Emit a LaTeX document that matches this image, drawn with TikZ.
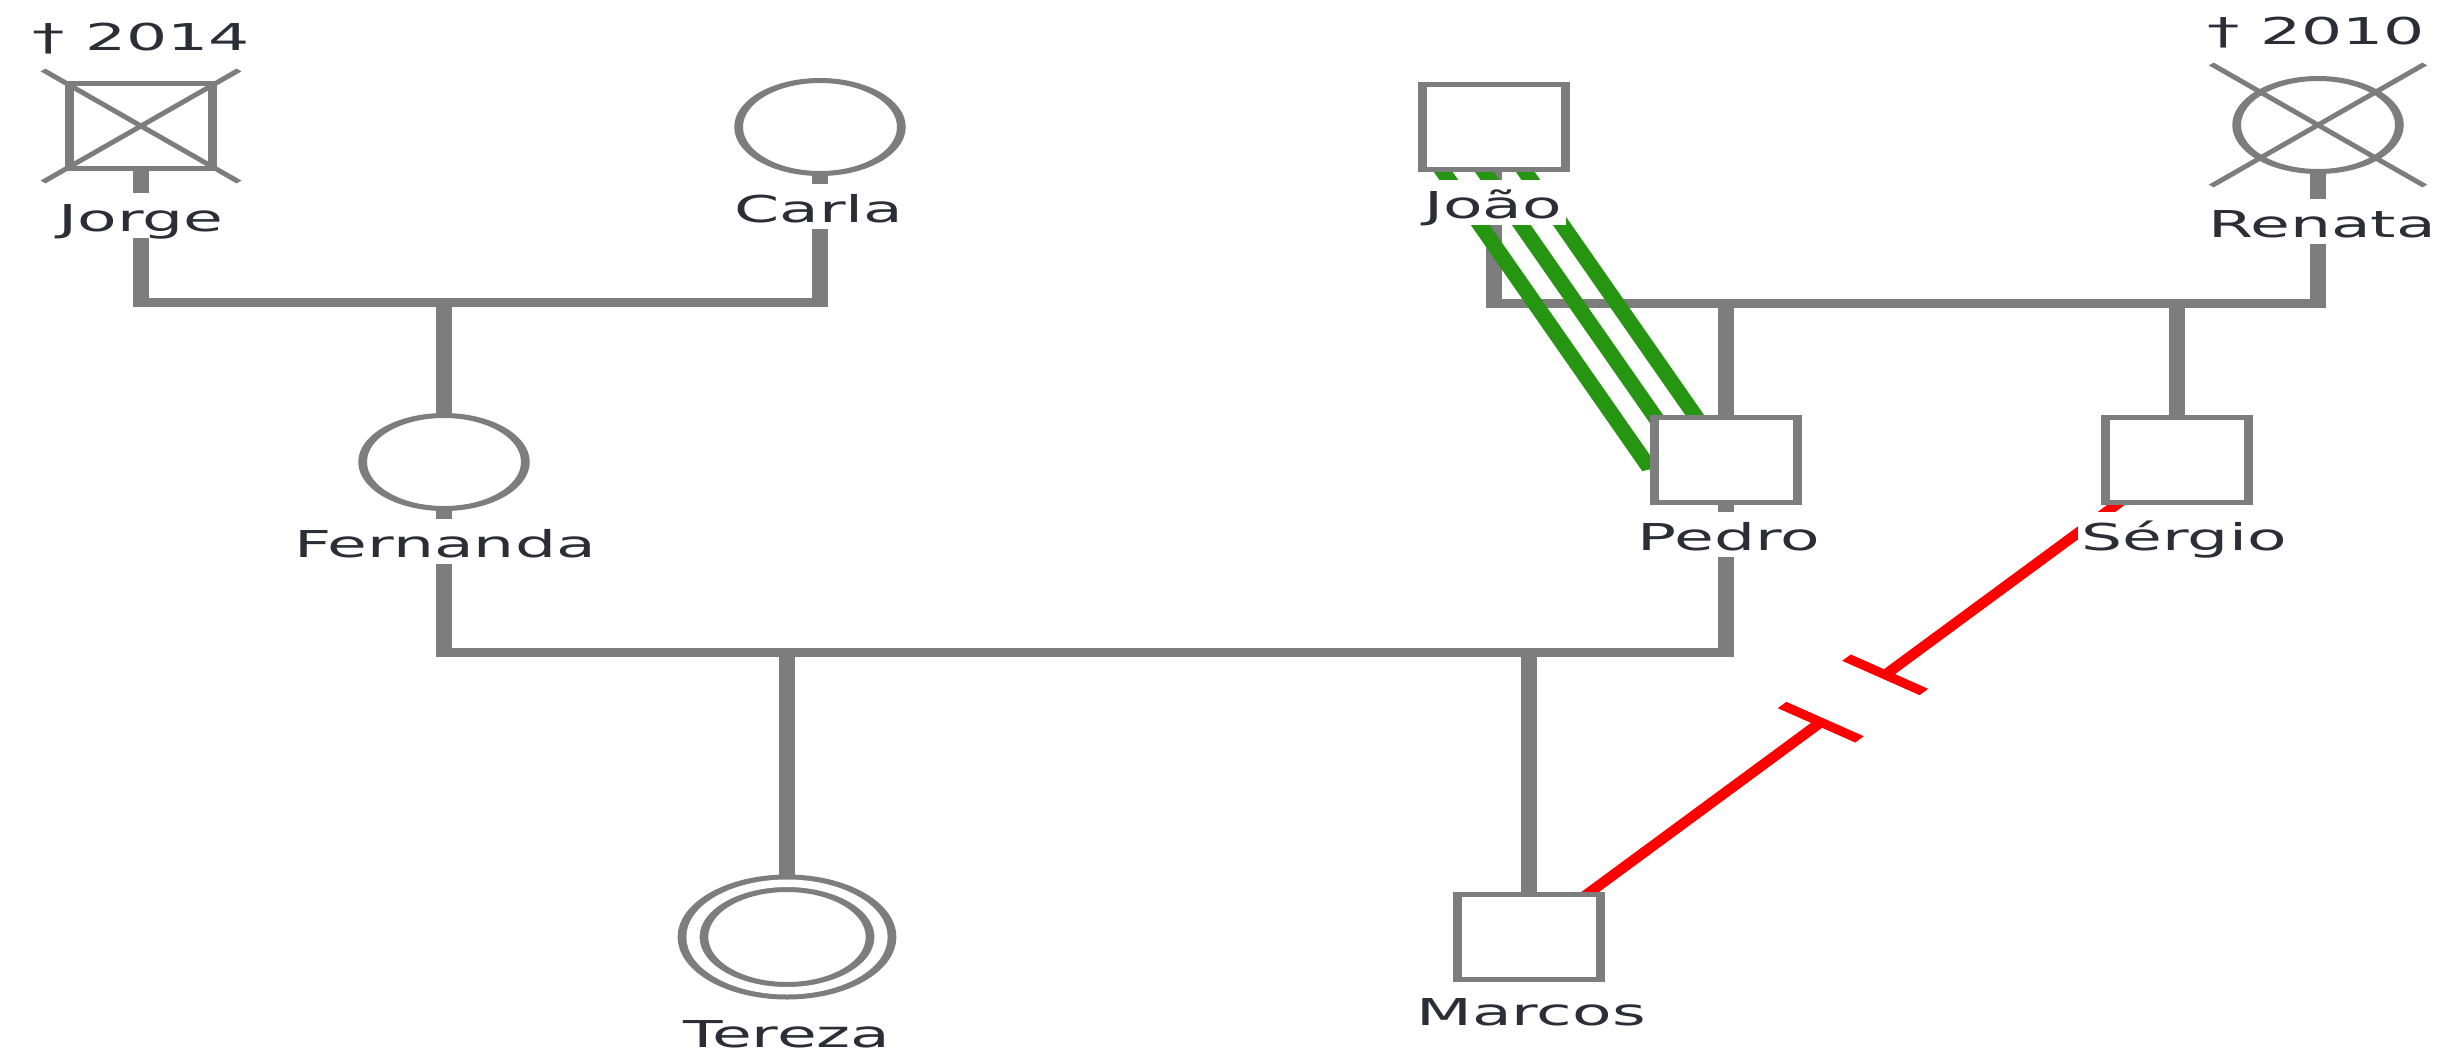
\documentclass[tikz,border=0pt]{standalone}
\usepackage{fontspec}
\setmainfont{DejaVu Sans}
\usetikzlibrary{calc}
\pgfdeclarelayer{bg}
\pgfsetlayers{bg,main}
\definecolor{lgray}{RGB}{125,125,125}
\definecolor{txt}{RGB}{45,45,55}
\definecolor{fgreen}{RGB}{38,150,18}
\begin{document}
\begin{tikzpicture}[x=0.571429pt, y=-1pt,
  person/.style={draw=lgray, line width=5pt, fill=white, inner sep=0pt},
  male/.style={person, rectangle, minimum width=82pt, minimum height=85pt},
  female/.style={person, circle, minimum size=93pt},
  lbl/.style={fill=white, text=txt, font=\fontsize{37}{44}\selectfont, inner xsep=2pt, inner ysep=2pt, text height=36pt, text depth=5pt, anchor=base},
  yr/.style={text=txt, font=\fontsize{37}{44}\selectfont, inner sep=0pt, anchor=base},
  famline/.style={draw=lgray, line width=9pt},
  fused/.style={draw=fgreen, line width=10pt, shorten <=45pt, shorten >=-10pt},
  cutoff/.style={draw=red, line width=8pt},
  deadx/.style={draw=lgray, line width=4pt}]
\useasboundingbox (0pt,0pt) rectangle (2450pt,-1052pt);
\begin{scope}[transform canvas={xscale=1.75}]
  % persons
  \node[male]   (jorge)    at (141,126)  {};
  \node[female] (carla)    at (820,127)  {};
  \node[male]   (joao)     at (1494,127) {};
  \node[female] (renata)   at (2318,125) {};
  \node[female] (fernanda) at (444,462)  {};
  \node[male]   (pedro)    at (1726,460) {};
  \node[male]   (sergio)   at (2177,460) {};
  \node[person, circle, minimum size=107.5pt, line width=5pt, double=white, double distance=7.5pt] (tereza) at (787,937) {};
  \node[male]   (marcos)   at (1529,937) {};
  % labels
  \node[lbl] (jorgel)    at (141,231)  {Jorge};
  \node[lbl] (carlal)    at (819,222)  {Carla};
  \node[lbl] (joaol)     at (1493,218) {João};
  \node[lbl] (renatal)   at (2322,237) {Renata};
  \node[lbl] (fernandal) at (445,557)  {Fernanda};
  \node[lbl] (pedrol)    at (1729,550) {Pedro};
  \node[lbl] (sergiol)   at (2184,550) {Sérgio};
  \node[lbl] (marcosl)   at (1531,1025) {Marcos};
  \node[lbl] (terezal)   at (787,1047) {Tereza};
  \node[yr]  (jorgey)    at (141,50)   {† 2014};
  \node[yr]  (renatay)   at (2316,44)  {† 2010};
  % deceased crosses
  \draw[deadx] ([shift={(-56pt,56pt)}]jorge.center) -- ([shift={(56pt,-56pt)}]jorge.center);
  \draw[deadx] ([shift={(-56pt,-56pt)}]jorge.center) -- ([shift={(56pt,56pt)}]jorge.center);
  \draw[deadx] ([shift={(-61pt,61pt)}]renata.center) -- ([shift={(61pt,-61pt)}]renata.center);
  \draw[deadx] ([shift={(-61pt,-61pt)}]renata.center) -- ([shift={(61pt,61pt)}]renata.center);
\end{scope}
\begin{pgfonlayer}{bg}
\begin{scope}[transform canvas={xscale=1.75}]
  \coordinate (u1) at (444,302);
  \coordinate (u2) at (786,652);
  \coordinate (u3) at (1726,303);
  \draw[famline, line join=miter] (jorge.center) |- (u1) -| (carla.center);
  \draw[famline] (u1) -- (fernanda.center);
  \draw[famline, line join=miter] (fernanda.center) |- (u2) -| (pedro.center);
  \draw[famline] (tereza.center |- u2) -- (tereza.center);
  \draw[famline] (marcos.center |- u2) -- (marcos.center);
  \draw[famline, line join=miter] (joao.center) |- (u3) -| (renata.center);
  \draw[famline] (u3) -- (pedro.center);
  \draw[famline] (sergio.center |- u3) -- (sergio.center);
  % fused relationship
  \draw[fused] (joao.center) -- (pedro.center);
  \draw[fused] ([xshift=-23.4pt]joao.center) -- ([xshift=-23.4pt]pedro.center);
  \draw[fused] ([xshift=-46.9pt]joao.center) -- ([xshift=-46.9pt]pedro.center);
  % cut-off relationship
  \coordinate (rmid) at ($(marcos.center)!0.5!(sergio.center)$);
  \coordinate (r1) at ($(rmid)!30pt!(marcos.center)$);
  \coordinate (r2) at ($(rmid)!30pt!(sergio.center)$);
  \draw[cutoff] (marcos.center) -- (r1);
  \draw[cutoff] (sergio.center) -- (r2);
  \draw[cutoff] ($(r1)!28pt!90:(marcos.center)$) -- ($(r1)!28pt!-90:(marcos.center)$);
  \draw[cutoff] ($(r2)!28pt!90:(sergio.center)$) -- ($(r2)!28pt!-90:(sergio.center)$);
\end{scope}
\end{pgfonlayer}
\end{tikzpicture}
\end{document}
